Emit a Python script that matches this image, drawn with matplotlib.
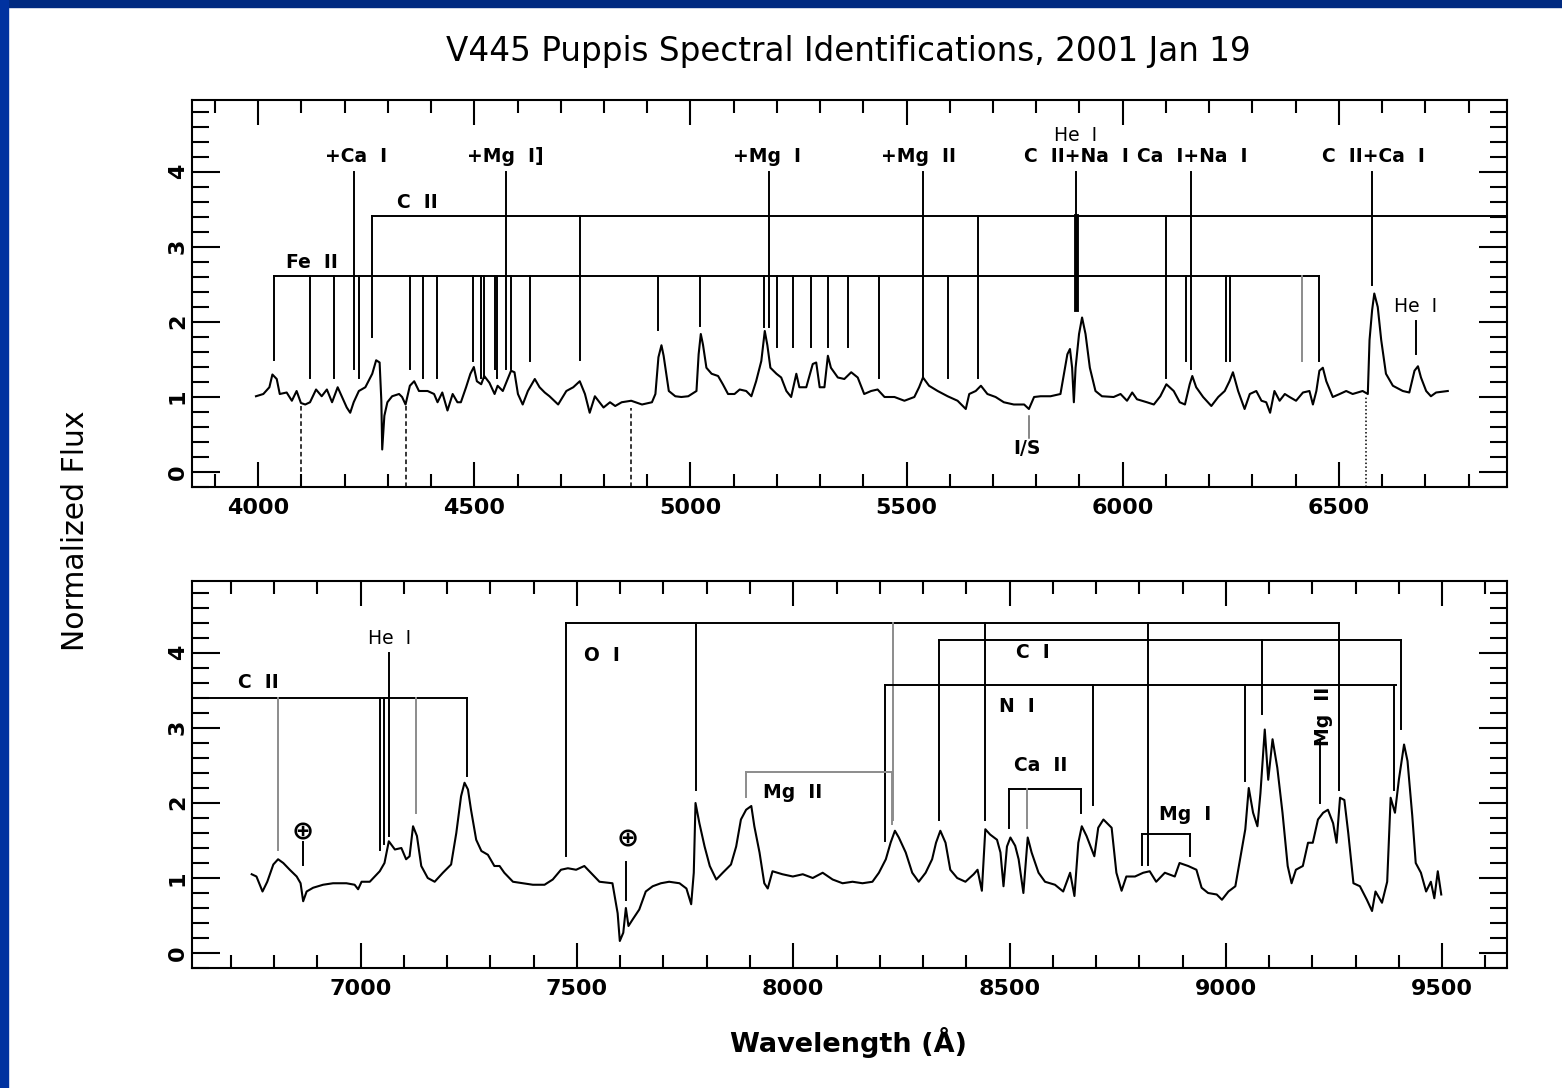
import numpy as np
import matplotlib.pyplot as plt
from matplotlib.patches import Rectangle
from matplotlib.ticker import MultipleLocator

# -------- SPECTRUM, BLUE HALF ------------------------------
WAVE_BLUE = [3995, 4012, 4026, 4033, 4043, 4050, 4066, 4078, 4089, 4099, 4109, 4120,
             4134, 4147, 4159, 4171, 4184, 4194, 4205, 4213, 4221, 4233, 4248, 4264,
             4273, 4281, 4285, 4287, 4292, 4299, 4310, 4326, 4333, 4341, 4351, 4361,
             4372, 4392, 4407, 4415, 4426, 4438, 4450, 4461, 4469, 4481, 4491, 4499,
             4506, 4516, 4523, 4535, 4547, 4554, 4566, 4585, 4593, 4601, 4612, 4624,
             4640, 4651, 4663, 4674, 4694, 4713, 4729, 4744, 4756, 4767, 4779, 4799,
             4814, 4826, 4841, 4863, 4888, 4911, 4919, 4926, 4933, 4938, 4950, 4965,
             4979, 4995, 5014, 5019, 5024, 5029, 5037, 5049, 5064, 5075, 5087, 5102,
             5114, 5129, 5141, 5152, 5164, 5172, 5178, 5185, 5199, 5210, 5222, 5233,
             5245, 5252, 5268, 5283, 5291, 5299, 5310, 5318, 5325, 5341, 5356, 5372,
             5387, 5402, 5418, 5433, 5449, 5472, 5495, 5518, 5529, 5538, 5552, 5572,
             5595, 5618, 5637, 5645, 5660, 5672, 5687, 5706, 5725, 5748, 5772, 5783,
             5795, 5810, 5833, 5856, 5872, 5878, 5883, 5887, 5891, 5899, 5906, 5914,
             5924, 5937, 5952, 5979, 5995, 6010, 6022, 6033, 6056, 6072, 6087, 6101,
             6118, 6132, 6144, 6155, 6161, 6170, 6186, 6205, 6221, 6236, 6247, 6255,
             6267, 6282, 6294, 6309, 6321, 6332, 6341, 6351, 6363, 6375, 6386, 6401,
             6417, 6432, 6440, 6448, 6455, 6463, 6471, 6486, 6502, 6517, 6532, 6555,
             6567, 6571, 6577, 6582, 6590, 6598, 6609, 6625, 6648, 6663, 6675, 6683,
             6690, 6702, 6713, 6725, 6752]
FLUX_BLUE = [1.01, 1.04, 1.13, 1.30, 1.24, 1.04, 1.06, 0.95, 1.08, 0.92, 0.90, 0.93,
             1.10, 1.01, 1.10, 0.93, 1.13, 1.00, 0.86, 0.79, 0.93, 1.08, 1.13, 1.31,
             1.49, 1.46, 0.95, 0.30, 0.75, 0.93, 1.01, 1.04, 1.00, 0.90, 1.15, 1.21,
             1.08, 1.08, 1.04, 0.93, 1.06, 0.82, 1.04, 0.93, 0.93, 1.13, 1.31, 1.40,
             1.21, 1.17, 1.28, 1.19, 1.04, 1.15, 1.08, 1.35, 1.33, 1.04, 0.90, 1.08,
             1.24, 1.13, 1.06, 1.01, 0.90, 1.08, 1.13, 1.21, 1.04, 0.79, 1.01, 0.86,
             0.93, 0.88, 0.93, 0.95, 0.90, 0.93, 1.04, 1.53, 1.69, 1.55, 1.08, 1.01,
             1.00, 1.01, 1.08, 1.57, 1.84, 1.70, 1.39, 1.31, 1.28, 1.17, 1.04, 1.04,
             1.10, 1.08, 1.01, 1.21, 1.48, 1.88, 1.69, 1.39, 1.31, 1.26, 1.08, 1.00,
             1.31, 1.13, 1.13, 1.44, 1.46, 1.13, 1.13, 1.55, 1.39, 1.26, 1.24, 1.33,
             1.26, 1.04, 1.08, 1.10, 1.00, 1.00, 0.95, 1.00, 1.13, 1.26, 1.15, 1.08,
             1.01, 0.95, 0.84, 1.04, 1.08, 1.15, 1.04, 1.00, 0.93, 0.90, 0.90, 0.84,
             1.00, 1.01, 1.01, 1.04, 1.57, 1.64, 1.39, 0.93, 1.39, 1.84, 2.06, 1.84,
             1.39, 1.08, 1.01, 1.00, 1.04, 0.95, 1.06, 0.97, 0.93, 0.90, 1.01, 1.17,
             1.08, 0.93, 0.90, 1.17, 1.28, 1.13, 1.00, 0.88, 1.00, 1.08, 1.21, 1.33,
             1.08, 0.84, 1.04, 1.08, 0.95, 0.93, 0.79, 1.08, 0.95, 1.04, 1.00, 0.95,
             1.06, 1.08, 0.90, 1.08, 1.35, 1.39, 1.21, 1.00, 1.04, 1.08, 1.04, 1.08,
             1.04, 1.76, 2.16, 2.38, 2.20, 1.76, 1.31, 1.15, 1.08, 1.06, 1.35, 1.41,
             1.26, 1.08, 1.01, 1.06, 1.08]

# -------- SPECTRUM, RED HALF ----------
WAVE_RED = [6748, 6759, 6773, 6784, 6798, 6809, 6821, 6836, 6852, 6861, 6867, 6875,
            6890, 6913, 6936, 6967, 6986, 6994, 7002, 7021, 7044, 7055, 7065, 7079,
            7094, 7105, 7113, 7121, 7130, 7140, 7155, 7171, 7190, 7209, 7221, 7232,
            7240, 7248, 7255, 7267, 7279, 7294, 7309, 7321, 7332, 7352, 7375, 7398,
            7425, 7444, 7463, 7479, 7498, 7517, 7532, 7552, 7582, 7594, 7599, 7607,
            7613, 7619, 7629, 7644, 7659, 7675, 7694, 7713, 7737, 7753, 7764, 7770,
            7774, 7783, 7795, 7807, 7822, 7837, 7856, 7868, 7879, 7891, 7903, 7910,
            7922, 7933, 7941, 7952, 7975, 7999, 8022, 8045, 8068, 8091, 8114, 8137,
            8160, 8183, 8198, 8214, 8225, 8235, 8244, 8260, 8275, 8290, 8306, 8321,
            8330, 8340, 8352, 8363, 8379, 8398, 8417, 8426, 8436, 8444, 8455, 8471,
            8479, 8486, 8494, 8502, 8513, 8521, 8532, 8542, 8551, 8567, 8582, 8605,
            8624, 8640, 8650, 8659, 8667, 8678, 8696, 8705, 8717, 8736, 8747, 8759,
            8770, 8790, 8809, 8824, 8839, 8859, 8882, 8893, 8913, 8932, 8944, 8959,
            8979, 8991, 9006, 9022, 9034, 9045, 9053, 9063, 9073, 9080, 9090, 9098,
            9108, 9119, 9131, 9143, 9152, 9162, 9178, 9190, 9201, 9213, 9225, 9236,
            9248, 9256, 9264, 9274, 9283, 9295, 9310, 9326, 9338, 9346, 9361, 9373,
            9381, 9391, 9400, 9412, 9420, 9431, 9439, 9451, 9463, 9474, 9482, 9490,
            9498]
FLUX_RED = [1.05, 1.02, 0.82, 0.95, 1.18, 1.25, 1.20, 1.11, 1.02, 0.93, 0.69, 0.82,
            0.87, 0.91, 0.93, 0.93, 0.91, 0.85, 0.95, 0.95, 1.09, 1.20, 1.49, 1.38,
            1.40, 1.25, 1.29, 1.69, 1.56, 1.16, 1.00, 0.95, 1.07, 1.18, 1.60, 2.09,
            2.27, 2.18, 1.91, 1.51, 1.36, 1.31, 1.16, 1.16, 1.07, 0.95, 0.93, 0.91,
            0.91, 0.98, 1.11, 1.13, 1.11, 1.16, 1.07, 0.95, 0.93, 0.53, 0.16, 0.27,
            0.60, 0.36, 0.45, 0.58, 0.82, 0.89, 0.93, 0.95, 0.93, 0.86, 0.65, 1.07,
            2.00, 1.73, 1.42, 1.16, 0.98, 1.07, 1.18, 1.42, 1.78, 1.91, 1.96, 1.69,
            1.34, 0.93, 0.86, 1.09, 1.05, 1.02, 1.05, 1.00, 1.07, 0.98, 0.93, 0.95,
            0.93, 0.95, 1.07, 1.25, 1.47, 1.63, 1.54, 1.34, 1.07, 0.95, 1.07, 1.25,
            1.47, 1.63, 1.47, 1.11, 1.00, 0.95, 1.05, 1.11, 0.83, 1.65, 1.58, 1.51,
            1.34, 0.89, 1.42, 1.54, 1.43, 1.25, 0.80, 1.54, 1.34, 1.07, 0.95, 0.91,
            0.82, 1.07, 0.76, 1.47, 1.69, 1.56, 1.29, 1.67, 1.78, 1.67, 1.07, 0.83,
            1.02, 1.02, 1.07, 1.09, 0.95, 1.07, 1.02, 1.20, 1.16, 1.11, 0.87, 0.80,
            0.78, 0.71, 0.82, 0.89, 1.29, 1.65, 2.20, 1.87, 1.69, 2.13, 2.98, 2.31,
            2.85, 2.47, 1.87, 1.16, 0.93, 1.11, 1.16, 1.47, 1.47, 1.78, 1.87, 1.91,
            1.73, 1.47, 2.07, 2.04, 1.60, 0.93, 0.89, 0.71, 0.56, 0.82, 0.67, 0.95,
            2.07, 1.87, 2.31, 2.78, 2.56, 1.83, 1.20, 1.07, 0.82, 0.95, 0.73, 1.09,
            0.78]

# -------- LINE IDENTIFICATIONS, BLUE HALF ----------
FE2_WAVE = [4036, 4120, 4176, 4234, 4351, 4382, 4413, 4496, 4516, 4522, 4547, 4552,
            4585, 4630, 4925, 5022, 5170, 5201, 5237, 5278, 5318, 5364, 5437, 5595,
            6147, 6238, 6249, 6415, 6455]
FE2_BOT = [1.49, 1.26, 1.26, 1.26, 1.38, 1.26, 1.26, 1.48, 1.26, 1.26, 1.38, 1.26,
           1.38, 1.48, 1.89, 1.95, 1.93, 1.67, 1.67, 1.67, 1.67, 1.67, 1.26, 1.26,
           1.48, 1.48, 1.48, 1.48, 1.48]
FE2_GRAY = [6415]
FE2_LEVEL = 2.61
C2_WAVE = [4263, 4744, 5666, 6101]
C2_BOT = [1.80, 1.50, 1.26, 1.26]
C2_LEVEL = 3.41
TOP_WAVE = [4221, 4573, 5181, 5538, 5893, 6157, 6577]   # lines hanging from y=4
TOP_BOT = [1.38, 1.38, 1.93, 1.26, 2.18, 1.38, 2.49]
HE_RED_WAVE, HE_RED_Y = 6679, (2.02, 1.58)
BALMER_WAVE = [4098, 4341, 4862, 6563]
BALMER_TOP = [0.88, 0.93, 0.86, 1.02]
IS_WAVE, IS_Y = 5783, (0.75, 0.46)

# -------- LINE IDENTIFICATIONS, RED HALF ----------
C2R_WAVE = [6809, 7044, 7053, 7128, 7245]
C2R_BOT = [1.38, 1.38, 1.45, 1.87, 2.36]
C2R_GRAY = [6809, 7128]
C2R_LEVEL = 3.40
HE1R_WAVE, HE1R_Y = 7065, (4.0, 1.56)
O1_WAVE = [7475, 7774, 8230, 8444, 8819, 9262]
O1_BOT = [1.29, 2.18, 1.78, 1.78, 1.18, 2.18]
O1_GRAY = [8230]
O1_LEVEL = 4.40
C1_WAVE = [8336, 9083, 9404]
C1_BOT = [1.78, 3.19, 2.99]
C1_LEVEL = 4.17
N1_WAVE = [8213, 8694, 9045, 9388]
N1_BOT = [1.49, 1.98, 2.29, 2.18]
N1_LEVEL, N1_END = 3.58, 9394
MG2R_WAVE = [7891, 8229]
MG2R_BOT = [2.08, 1.72]
MG2R_LEVEL = 2.42
CA2_WAVE = [8498, 8541, 8665]
CA2_BOT = [1.67, 1.67, 1.87]
CA2_GRAY = [8541]
CA2_LEVEL = 2.19
MG1R_WAVE = [8807, 8917]
MG1R_BOT = [1.18, 1.29]
MG1R_LEVEL = 1.59
MG2B_WAVE, MG2B_Y = 9218, (2.83, 2.00)
EARTH_WAVE = [6867, 7613]
EARTH_Y = [(1.48, 1.18), (1.21, 0.71)]

XLIM_BLUE = (3847, 6889)
XLIM_RED = (6610, 9650)
YLIM = (-0.2, 4.96)

W, H = 1562, 1088
fig = plt.figure(figsize=(W / 100, H / 100), dpi=100)
fig.patches.append(Rectangle((0, 1 - 7 / H), 1, 7 / H, transform=fig.transFigure,
                             color='#002a80', zorder=0))
fig.patches.append(Rectangle((0, 0), 8 / W, 1, transform=fig.transFigure,
                             color='#0032a0', zorder=0))

LW = 1.4
LBL = dict(fontsize=13.5, fontweight='bold', ha='center', va='center')


def style_axes(ax, xlim):
    ax.set_xlim(*xlim)
    ax.set_ylim(*YLIM)
    ax.xaxis.set_major_locator(MultipleLocator(500))
    ax.xaxis.set_minor_locator(MultipleLocator(100))
    ax.yaxis.set_major_locator(MultipleLocator(1))
    ax.yaxis.set_minor_locator(MultipleLocator(0.2))
    ax.tick_params(axis='x', which='major', direction='in', length=18, width=1.5,
                   top=True, pad=8, labelsize=16)
    ax.tick_params(axis='x', which='minor', direction='in', length=9.5, width=1.5, top=True)
    ax.tick_params(axis='y', which='major', direction='in', length=20, width=1.5,
                   right=True, pad=3, labelsize=16, labelrotation=90)
    ax.tick_params(axis='y', which='minor', direction='in', length=12, width=1.5, right=True)
    for lab in ax.get_xticklabels() + ax.get_yticklabels():
        lab.set_fontweight('bold')
    for sp in ax.spines.values():
        sp.set_linewidth(1.5)


def vlines(ax, waves, bots, top, gray=(), lw=LW):
    for w, b in zip(waves, bots):
        ax.plot([w, w], [b, top], color='0.55' if w in gray else 'k', lw=lw)


# ---------------- top panel ----------------
ax1 = fig.add_axes([192 / W, 1 - 487 / H, 1315 / W, 387 / H])
ax1.plot(WAVE_BLUE, FLUX_BLUE, color='k', lw=1.5)

ax1.plot([FE2_WAVE[0], FE2_WAVE[-1]], [FE2_LEVEL] * 2, color='k', lw=LW)
vlines(ax1, FE2_WAVE, FE2_BOT, FE2_LEVEL, gray=FE2_GRAY)
ax1.plot([C2_WAVE[0], XLIM_BLUE[1]], [C2_LEVEL] * 2, color='k', lw=LW)
vlines(ax1, C2_WAVE, C2_BOT, C2_LEVEL)
vlines(ax1, TOP_WAVE, TOP_BOT, 4.0)
ax1.plot([5893, 5893], [TOP_BOT[4], C2_LEVEL], color='k', lw=3.5)
ax1.plot([HE_RED_WAVE] * 2, HE_RED_Y, color='k', lw=LW)
for w, t in zip(BALMER_WAVE, BALMER_TOP):
    ls = (0, (1, 1.5)) if w > 6000 else (0, (3, 2))
    ax1.plot([w, w], [YLIM[0], t], color='k', lw=1.1, ls=ls)
ax1.plot([IS_WAVE] * 2, IS_Y, color='0.4', lw=1.1)

ax1.text(4226, 4.2, '+Ca  I', **LBL)
ax1.text(4572, 4.2, '+Mg  I]', **LBL)
ax1.text(5176, 4.2, '+Mg  I', **LBL)
ax1.text(5528, 4.2, '+Mg  II', **LBL)
ax1.text(5890, 4.49, 'He  I', fontsize=13.5, ha='center', va='center')
ax1.text(5893, 4.2, 'C  II+Na  I', **LBL)
ax1.text(6160, 4.2, 'Ca  I+Na  I', **LBL)
ax1.text(6581, 4.2, 'C  II+Ca  I', **LBL)
ax1.text(6678, 2.2, 'He  I', fontsize=13.5, ha='center', va='center')
ax1.text(4369, 3.6, 'C  II', **LBL)
ax1.text(4125, 2.79, 'Fe  II', **LBL)
ax1.text(5778, 0.31, 'I/S', **LBL)
style_axes(ax1, XLIM_BLUE)

# ---------------- bottom panel ----------------
ax2 = fig.add_axes([192 / W, 1 - 968 / H, 1315 / W, 387 / H])
ax2.plot(WAVE_RED, FLUX_RED, color='k', lw=1.5)

ax2.plot([XLIM_RED[0], C2R_WAVE[-1]], [C2R_LEVEL] * 2, color='k', lw=LW)
vlines(ax2, C2R_WAVE, C2R_BOT, C2R_LEVEL, gray=C2R_GRAY)
ax2.plot([HE1R_WAVE] * 2, HE1R_Y, color='k', lw=LW)
ax2.plot([O1_WAVE[0], O1_WAVE[-1]], [O1_LEVEL] * 2, color='k', lw=LW)
vlines(ax2, O1_WAVE, O1_BOT, O1_LEVEL, gray=O1_GRAY)
ax2.plot([C1_WAVE[0], C1_WAVE[-1]], [C1_LEVEL] * 2, color='k', lw=LW)
vlines(ax2, C1_WAVE, C1_BOT, C1_LEVEL)
ax2.plot([N1_WAVE[0], N1_END], [N1_LEVEL] * 2, color='k', lw=LW)
vlines(ax2, N1_WAVE, N1_BOT, N1_LEVEL)
ax2.plot([MG2R_WAVE[0], MG2R_WAVE[-1]], [MG2R_LEVEL] * 2, color='0.55', lw=LW)
vlines(ax2, MG2R_WAVE, MG2R_BOT, MG2R_LEVEL, gray=MG2R_WAVE)
ax2.plot([CA2_WAVE[0], CA2_WAVE[-1]], [CA2_LEVEL] * 2, color='k', lw=LW)
vlines(ax2, CA2_WAVE, CA2_BOT, CA2_LEVEL, gray=CA2_GRAY)
ax2.plot([MG1R_WAVE[0], MG1R_WAVE[-1]], [MG1R_LEVEL] * 2, color='k', lw=LW)
vlines(ax2, MG1R_WAVE, MG1R_BOT, MG1R_LEVEL)
ax2.plot([MG2B_WAVE] * 2, MG2B_Y, color='k', lw=LW)
for w, (a, b) in zip(EARTH_WAVE, EARTH_Y):
    ax2.plot([w, w], [a, b], color='k', lw=LW)

ax2.text(6764, 3.6, 'C  II', **LBL)
ax2.text(7067, 4.19, 'He  I', fontsize=13.5, ha='center', va='center')
ax2.text(6866, 1.61, '\u2295', fontsize=19, fontweight='bold', ha='center', va='center')
ax2.text(7617, 1.51, '\u2295', fontsize=19, fontweight='bold', ha='center', va='center')
ax2.text(7557, 3.97, 'O  I', **LBL)
ax2.text(7999, 2.14, 'Mg  II', **LBL)
ax2.text(8554, 4.0, 'C  I', **LBL)
ax2.text(8517, 3.28, 'N  I', **LBL)
ax2.text(8573, 2.50, 'Ca  II', **LBL)
ax2.text(8906, 1.85, 'Mg  I', **LBL)
ax2.text(9226, 3.15, 'Mg  II', rotation=90, **LBL)
style_axes(ax2, XLIM_RED)

fig.text(848 / W, 1 - 52 / H, 'V445 Puppis Spectral Identifications, 2001 Jan 19',
         fontsize=23.5, ha='center', va='center')
fig.text(75 / W, 1 - 531 / H, 'Normalized Flux', fontsize=21.5, rotation=90,
         ha='center', va='center')
fig.text(848 / W, 1 - 1043 / H, 'Wavelength (\u00c5)', fontsize=19.5, fontweight='bold',
         ha='center', va='center')

fig.savefig('out.png', dpi=100)
